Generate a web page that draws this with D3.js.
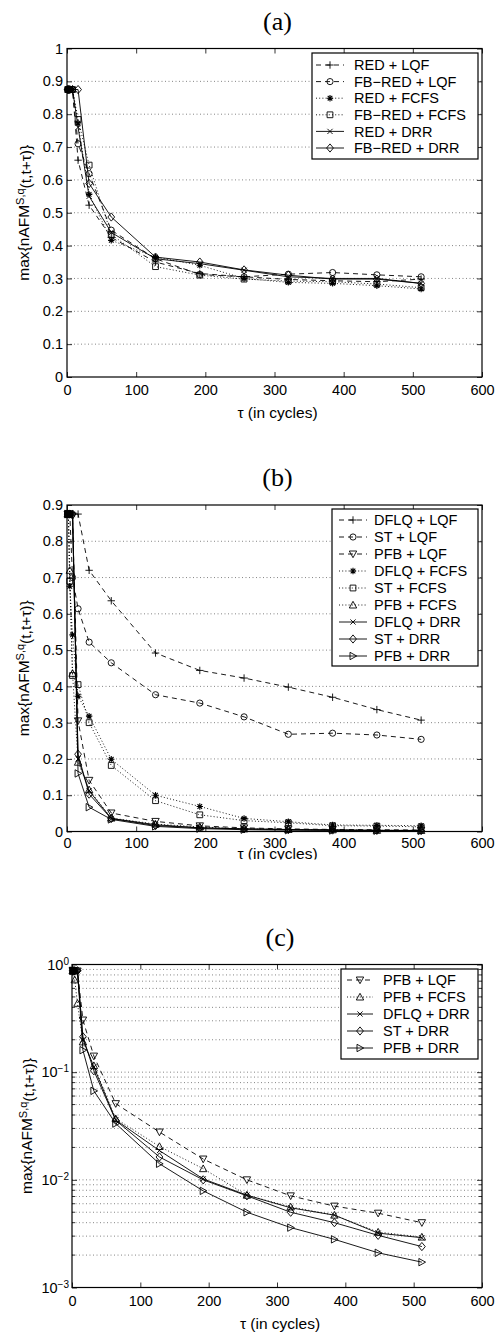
<!DOCTYPE html>
<html>
<head>
<meta charset="utf-8">
<script src="https://cdn.jsdelivr.net/npm/d3@7"></script>
<style>
  body { margin: 0; background: #fff; }
  text { font-family: "Liberation Sans", Arial, sans-serif; }
</style>
</head>
<body>
<svg id="fig" width="495" height="1335"></svg>
<script>
// tau (in cycles)
const tau = [1, 2, 4, 8, 16, 32, 64, 128, 192, 256, 320, 384, 448, 512];

// panel (a)
const redLqf     = [0.875, 0.875, 0.875, 0.875, 0.66, 0.523, 0.425, 0.35, 0.315, 0.305, 0.297, 0.293, 0.29, 0.298];
const fbRedLqf   = [0.875, 0.875, 0.875, 0.875, 0.71, 0.619, 0.447, 0.36, 0.312, 0.305, 0.313, 0.318, 0.311, 0.305];
const redFcfs    = [0.875, 0.875, 0.875, 0.875, 0.773, 0.556, 0.416, 0.365, 0.34, 0.30, 0.288, 0.285, 0.278, 0.268];
const fbRedFcfs  = [0.875, 0.875, 0.875, 0.875, 0.784, 0.645, 0.434, 0.336, 0.31, 0.298, 0.292, 0.29, 0.283, 0.272];
const redDrr     = [0.875, 0.875, 0.875, 0.875, 0.76, 0.55, 0.44, 0.36, 0.345, 0.325, 0.305, 0.30, 0.30, 0.285];
const fbRedDrr   = [0.875, 0.875, 0.875, 0.875, 0.875, 0.589, 0.487, 0.365, 0.35, 0.326, 0.31, 0.298, 0.298, 0.285];

// panel (b) and (c)
const dflqLqf    = [0.875, 0.875, 0.875, 0.875, 0.875, 0.72, 0.636, 0.492, 0.444, 0.423, 0.398, 0.37, 0.336, 0.307];
const stLqf      = [0.875, 0.875, 0.875, 0.70, 0.614, 0.522, 0.465, 0.377, 0.354, 0.316, 0.268, 0.271, 0.266, 0.254];
const pfbLqf     = [0.875, 0.875, 0.875, 0.87, 0.305, 0.141, 0.051, 0.0278, 0.0156, 0.0100, 0.0071, 0.0057, 0.0049, 0.0040];
const dflqFcfs   = [0.875, 0.875, 0.676, 0.542, 0.373, 0.318, 0.199, 0.10, 0.069, 0.036, 0.027, 0.018, 0.017, 0.016];
const stFcfs     = [0.875, 0.875, 0.69, 0.43, 0.405, 0.30, 0.182, 0.085, 0.046, 0.030, 0.024, 0.016, 0.015, 0.013];
const pfbFcfs    = [0.875, 0.875, 0.72, 0.436, 0.191, 0.115, 0.037, 0.0204, 0.0127, 0.0072, 0.0056, 0.0047, 0.00327, 0.00294];
const dflqDrr    = [0.875, 0.875, 0.875, 0.875, 0.20, 0.112, 0.036, 0.0187, 0.0102, 0.0072, 0.0055, 0.0047, 0.0032, 0.0029];
const stDrr      = [0.875, 0.875, 0.875, 0.875, 0.213, 0.103, 0.0357, 0.0163, 0.0100, 0.0071, 0.0050, 0.0040, 0.00305, 0.0024];
const pfbDrr     = [0.875, 0.875, 0.875, 0.875, 0.16, 0.067, 0.0333, 0.0141, 0.0079, 0.0050, 0.0036, 0.0028, 0.0021, 0.00172];

const xTicks = [0, 100, 200, 300, 400, 500, 600];
const yTicksA = [0, 0.1, 0.2, 0.3, 0.4, 0.5, 0.6, 0.7, 0.8, 0.9, 1];
const yTicksB = [0, 0.1, 0.2, 0.3, 0.4, 0.5, 0.6, 0.7, 0.8, 0.9];
const yTicksC = [1e-3, 1e-2, 1e-1, 1];
const yTickLabelsC = ["\u22123", "\u22122", "\u22121", "0"];

const DASH = "5,4", DOT = "1,2.2";

const svg = d3.select("#fig");

// clip for the (b) x label, which is cut off in the original figure
svg.append("defs").append("clipPath").attr("id", "cutB")
  .append("rect").attr("x", 0).attr("y", 0).attr("width", 495).attr("height", 859.5);

function marker(g, type, cx, cy) {
  const p = g.append("path")
    .attr("fill", "none").attr("stroke", "#000").attr("stroke-width", 0.9);
  let d;
  switch (type) {
    case "plus":  d = `M${cx-3.7},${cy}H${cx+3.7}M${cx},${cy-3.7}V${cy+3.7}`; break;
    case "cross": d = `M${cx-2.6},${cy-2.6}L${cx+2.6},${cy+2.6}M${cx-2.6},${cy+2.6}L${cx+2.6},${cy-2.6}`; break;
    case "star":  d = `M${cx-3.2},${cy}H${cx+3.2}M${cx},${cy-3.2}V${cy+3.2}M${cx-2.3},${cy-2.3}L${cx+2.3},${cy+2.3}M${cx-2.3},${cy+2.3}L${cx+2.3},${cy-2.3}`;
                  p.attr("stroke-width", 1.1); break;
    case "circle": d = d3.arc()({innerRadius: 0, outerRadius: 3.1, startAngle: 0, endAngle: 2 * Math.PI});
                  p.attr("transform", `translate(${cx},${cy})`); break;
    case "square": d = `M${cx-2.9},${cy-2.9}h5.8v5.8h-5.8Z`; break;
    case "diamond": d = `M${cx},${cy-4.1}L${cx+3.4},${cy}L${cx},${cy+4.1}L${cx-3.4},${cy}Z`; break;
    case "tdown": d = `M${cx-3.7},${cy-3}L${cx+3.7},${cy-3}L${cx},${cy+3.7}Z`; break;
    case "tup":   d = `M${cx-3.7},${cy+3}L${cx+3.7},${cy+3}L${cx},${cy-3.7}Z`; break;
    case "tright": d = `M${cx-3},${cy-3.7}L${cx-3},${cy+3.7}L${cx+3.7},${cy}Z`; break;
  }
  p.attr("d", d);
}

function panel(cfg) {
  const g = svg.append("g");
  const x = d3.scaleLinear().domain([0, 600]).range([cfg.left, cfg.right]);
  const y = cfg.log
    ? d3.scaleLog().domain([1e-3, 1]).range([cfg.bottom, cfg.top])
    : d3.scaleLinear().domain([0, cfg.ymax]).range([cfg.bottom, cfg.top]);

  // title
  g.append("text").attr("x", (cfg.left + cfg.right) / 2 + 3).attr("y", cfg.top - 19)
    .attr("text-anchor", "middle").style("font-family", "'Liberation Serif', 'Times New Roman', serif")
    .attr("font-size", 26).text(cfg.title);

  // grid
  let grid;
  if (cfg.log) {
    grid = [];
    [1e-3, 1e-2, 1e-1].forEach(dec => { for (let k = 1; k < 10; k++) grid.push(dec * k); });
    grid = grid.filter(v => v > 1e-3);
  } else {
    grid = cfg.yTicks.filter(v => v > 0 && v < cfg.ymax);
  }
  g.append("g").selectAll("line").data(grid).join("line")
    .attr("x1", cfg.left).attr("x2", cfg.right)
    .attr("y1", d => y(d)).attr("y2", d => y(d))
    .attr("stroke", "#666").attr("stroke-width", 0.8).attr("stroke-dasharray", "1,2.5");

  // series
  const line = d3.line().x((d, i) => x(tau[i])).y(d => y(d));
  cfg.series.forEach(s => {
    g.append("path").datum(s.values).attr("d", line)
      .attr("fill", "none").attr("stroke", "#000").attr("stroke-width", 0.9)
      .attr("stroke-dasharray", s.dash);
    const mg = g.append("g");
    s.values.forEach((v, i) => marker(mg, s.marker, x(tau[i]), y(v)));
  });

  // axes with inward ticks
  g.append("g").attr("transform", `translate(0,${cfg.bottom})`)
    .call(d3.axisBottom(x).tickValues(xTicks).tickSize(-5).tickPadding(cfg.xPad).tickFormat(d3.format("d")));
  g.append("g").attr("transform", `translate(0,${cfg.top})`)
    .call(d3.axisTop(x).tickValues(xTicks).tickSize(-5).tickFormat(""));

  let left;
  if (cfg.log) {
    left = g.append("g").attr("transform", `translate(${cfg.left},0)`)
      .call(d3.axisLeft(y).tickValues(yTicksC).tickSize(-5).tickFormat(""));
    g.append("g").attr("transform", `translate(${cfg.right},0)`)
      .call(d3.axisRight(y).tickValues(yTicksC).tickSize(-5).tickFormat(""));
    // minor ticks
    [cfg.left, cfg.right].forEach((xx, k) => {
      g.append("g").selectAll("line").data(grid.filter(v => !yTicksC.includes(v))).join("line")
        .attr("x1", xx).attr("x2", k === 0 ? xx + 3 : xx - 3)
        .attr("y1", d => y(d)).attr("y2", d => y(d)).attr("stroke", "#000").attr("stroke-width", 0.8);
    });
    left.selectAll(".tick").append("text")
      .attr("x", -3).attr("dy", "0.32em").attr("fill", "#000").attr("text-anchor", "end")
      .each(function(d, i) {
        const t = d3.select(this);
        t.append("tspan").text("10");
        t.append("tspan").attr("dy", "-0.5em").attr("font-size", 10).text(yTickLabelsC[i]);
      });
  } else {
    left = g.append("g").attr("transform", `translate(${cfg.left},0)`)
      .call(d3.axisLeft(y).tickValues(cfg.yTicks).tickSize(-5).tickPadding(4).tickFormat(d3.format("")));
    g.append("g").attr("transform", `translate(${cfg.right},0)`)
      .call(d3.axisRight(y).tickValues(cfg.yTicks).tickSize(-5).tickFormat(""));
  }
  g.selectAll(".domain").remove();
  g.selectAll(".tick line").attr("stroke", "#000").attr("stroke-width", 0.8);
  g.selectAll(".tick text").attr("font-size", 14.5).attr("fill", "#000")
    .style("font-family", "'Liberation Sans', Arial, sans-serif");

  // box
  g.append("rect").attr("x", cfg.left).attr("y", cfg.top)
    .attr("width", cfg.right - cfg.left).attr("height", cfg.bottom - cfg.top)
    .attr("fill", "none").attr("stroke", "#000").attr("stroke-width", 1.2);

  // axis labels
  const xl = g.append("text").attr("x", (cfg.left + cfg.right) / 2 + 3).attr("y", cfg.bottom + cfg.xLabelDy)
    .attr("text-anchor", "middle").attr("font-size", 15.5).text("\u03c4 (in cycles)");
  if (cfg.clip) xl.attr("clip-path", `url(#${cfg.clip})`);

  const yl = g.append("text")
    .attr("transform", `translate(${cfg.yLabelX},${(cfg.top + cfg.bottom) / 2}) rotate(-90)`)
    .attr("text-anchor", "middle").attr("font-size", 15.5);
  yl.append("tspan").text("max{nAFM");
  yl.append("tspan").attr("dy", "-0.45em").attr("font-size", 11).text("S,q");
  yl.append("tspan").attr("dy", "0.45em").text("(t,t+\u03c4)}");

  // legend
  const L = cfg.legend;
  const lg = g.append("g");
  lg.append("rect").attr("x", L.x1).attr("y", L.y1)
    .attr("width", L.x2 - L.x1).attr("height", L.y2 - L.y1)
    .attr("fill", "#fff").attr("stroke", "#000").attr("stroke-width", 1.2);
  cfg.series.forEach((s, i) => {
    const ry = L.row0 + i * L.step;
    lg.append("line").attr("x1", L.s1).attr("x2", L.s2).attr("y1", ry).attr("y2", ry)
      .attr("stroke", "#000").attr("stroke-width", 0.9).attr("stroke-dasharray", s.dash);
    marker(lg, s.marker, (L.s1 + L.s2) / 2, ry);
    lg.append("text").attr("x", L.tx).attr("y", ry + 5.1).attr("font-size", 14.5).text(s.name);
  });
}

panel({
  title: "(a)", left: 67, right: 482, top: 48.5, bottom: 377, ymax: 1, yTicks: yTicksA,
  xPad: 8, xLabelDy: 41, yLabelX: 29,
  series: [
    { name: "RED + LQF", values: redLqf, dash: DASH, marker: "plus" },
    { name: "FB\u2212RED + LQF", values: fbRedLqf, dash: DASH, marker: "circle" },
    { name: "RED + FCFS", values: redFcfs, dash: DOT, marker: "star" },
    { name: "FB\u2212RED + FCFS", values: fbRedFcfs, dash: DOT, marker: "square" },
    { name: "RED + DRR", values: redDrr, dash: null, marker: "cross" },
    { name: "FB\u2212RED + DRR", values: fbRedDrr, dash: null, marker: "diamond" }
  ],
  legend: { x1: 312, x2: 478, y1: 53, y2: 159, row0: 65, step: 16.6, s1: 316, s2: 344, tx: 354 }
});

panel({
  title: "(b)", left: 67, right: 482, top: 505, bottom: 831.5, ymax: 0.9, yTicks: yTicksB,
  xPad: 6, xLabelDy: 27.5, yLabelX: 29, clip: "cutB",
  series: [
    { name: "DFLQ + LQF", values: dflqLqf, dash: DASH, marker: "plus" },
    { name: "ST + LQF", values: stLqf, dash: DASH, marker: "circle" },
    { name: "PFB + LQF", values: pfbLqf, dash: DASH, marker: "tdown" },
    { name: "DFLQ + FCFS", values: dflqFcfs, dash: DOT, marker: "star" },
    { name: "ST + FCFS", values: stFcfs, dash: DOT, marker: "square" },
    { name: "PFB + FCFS", values: pfbFcfs, dash: DOT, marker: "tup" },
    { name: "DFLQ + DRR", values: dflqDrr, dash: null, marker: "cross" },
    { name: "ST + DRR", values: stDrr, dash: null, marker: "diamond" },
    { name: "PFB + DRR", values: pfbDrr, dash: null, marker: "tright" }
  ],
  legend: { x1: 332, x2: 478, y1: 509, y2: 666, row0: 520, step: 17, s1: 339, s2: 367, tx: 374 }
});

panel({
  title: "(c)", left: 72, right: 482, top: 964.5, bottom: 1287.5, log: true,
  xPad: 8, xLabelDy: 41, yLabelX: 32,
  series: [
    { name: "PFB + LQF", values: pfbLqf, dash: DASH, marker: "tdown" },
    { name: "PFB + FCFS", values: pfbFcfs, dash: DOT, marker: "tup" },
    { name: "DFLQ + DRR", values: dflqDrr, dash: null, marker: "cross" },
    { name: "ST + DRR", values: stDrr, dash: null, marker: "diamond" },
    { name: "PFB + DRR", values: pfbDrr, dash: null, marker: "tright" }
  ],
  legend: { x1: 341, x2: 478, y1: 969, y2: 1059, row0: 980, step: 17, s1: 347, s2: 373, tx: 383 }
});
</script>
</body>
</html>
